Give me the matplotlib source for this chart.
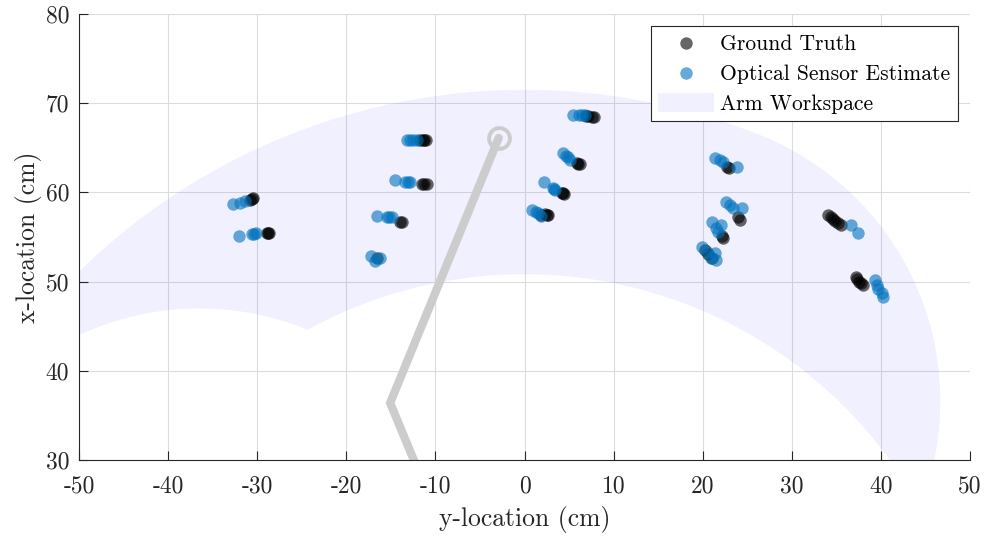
import numpy as np
import matplotlib.pyplot as plt

plt.rcParams['font.family'] = 'cmr10'
plt.rcParams['axes.unicode_minus'] = False
plt.rcParams['mathtext.fontset'] = 'cm'

# arm geometry (cm, degrees measured from the x-location axis)
link1 = 39.4
link2 = 32.1
shoulder_lim = (-67.8, 21.7)
elbow_lim = (0.0, 90.0)
pose = (-22.5, 44.8)

# ground truth positions: horizontal = y-location, vertical = x-location
gt_y = [-30.81, -30.6, -30.44, -28.93, -28.8, -28.64, -11.7, -11.4, -11.25, -11.05,
        -11.54, -11.25, -10.99, -13.97, -13.8, -16.59, 6.9, 7.16, 7.54, 7.80,
        5.93, 6.05, 6.23, 4.18, 4.3, 4.43, 1.9, 2.30, 2.5, 2.67,
        22.69, 22.98, 23.99, 24.18, 22.13, 22.31, 20.25, 20.63, 21.01,
        34.10, 34.4, 34.66, 34.9, 35.22, 35.52, 37.17, 37.35, 37.54, 37.8, 38.02]
gt_x = [59.15, 59.25, 59.34, 55.48, 55.48, 55.48, 65.91, 65.91, 65.91, 65.91,
        60.91, 60.91, 60.91, 56.72, 56.65, 52.61, 68.55, 68.60, 68.49, 68.42,
        63.26, 63.2, 63.15, 59.97, 59.88, 59.79, 57.5, 57.58, 57.5, 57.47,
        62.88, 62.70, 57.28, 56.91, 55.15, 54.92, 53.54, 53.06, 52.68,
        57.47, 57.2, 56.98, 56.75, 56.54, 56.35, 50.55, 50.25, 49.99, 49.8, 49.62]

# optical sensor estimates
est_y = [-32.68, -31.93, -31.37, -32.01, -30.62, -30.35, -30.13, -13.22, -12.8,
         -12.48, -12.10, -14.53, -13.41, -13.1, -12.85, -16.59, -15.47, -15.2,
         -14.90, -17.26, -16.22, -16.78, 5.48, 6.1, 6.42, 6.79, 4.29, 4.7, 4.92,
         5.11, 2.19, 3.17, 3.3, 3.42, 0.81, 1.3, 1.55, 1.82, 21.38, 21.94, 22.24,
         23.81, 22.61, 23.06, 23.36, 24.37, 21.01, 21.49, 21.75, 22.02, 19.89,
         20.44, 20.89, 21.38, 21.49, 36.64, 37.46, 39.34, 39.53, 39.71, 40.09, 40.27]
est_x = [58.70, 58.85, 59.04, 55.11, 55.30, 55.35, 55.41, 65.91, 65.91,
         65.91, 65.91, 61.39, 61.13, 61.13, 61.13, 57.39, 57.21, 57.21,
         57.21, 52.90, 52.61, 52.31, 68.68, 68.68, 68.68, 68.68, 64.38, 64.1, 63.93,
         63.63, 61.20, 60.46, 60.35, 60.27, 58.03, 57.8, 57.66, 57.35, 63.82, 63.63,
         63.37, 62.81, 58.96, 58.59, 58.22, 58.28, 56.65, 56.04, 55.53, 56.35,
         53.91, 53.28, 52.68, 53.17, 52.42, 56.35, 55.42, 50.18, 49.62, 49.14,
         48.76, 48.31]


def fk(a1, a2):
    a1 = np.radians(a1)
    a2 = np.radians(a2)
    h = link1 * np.sin(a1) + link2 * np.sin(a1 + a2)
    v = link1 * np.cos(a1) + link2 * np.cos(a1 + a2)
    return h, v


# boundary of the reachable region, walked around once
s = np.linspace(0, 1, 300)
lo, hi = shoulder_lim
e0, e1 = elbow_lim
parts = [fk(lo + (hi - lo) * s, e0),
         fk(hi, e0 + (e1 - e0) * s),
         fk(hi - (hi - lo) * s, e1),
         fk(lo, e1 - (e1 - e0) * s)]
ws_h = np.concatenate([p[0] * np.ones_like(s) for p in parts])
ws_v = np.concatenate([p[1] * np.ones_like(s) for p in parts])

fig = plt.figure(figsize=(9.89, 5.38), dpi=100)
ax = fig.add_axes([79 / 989, 1 - 460 / 538, 891 / 989, 446 / 538])

ax.fill(ws_h, ws_v, color=(0, 0, 1), alpha=0.06, lw=0, label='Arm Workspace', zorder=1)

# arm links: base -> elbow -> end effector
elbow = (link1 * np.sin(np.radians(pose[0])), link1 * np.cos(np.radians(pose[0])))
tip = fk(*pose)
ax.plot([0, elbow[0], tip[0]], [0, elbow[1], tip[1]], color='#cccccc', lw=6,
        solid_capstyle='round', solid_joinstyle='miter', zorder=2)
ax.plot(tip[0], tip[1], 'o', ms=15, mfc='none', mec='#cccccc', mew=2.8, zorder=2)

ax.scatter(gt_y, gt_x, s=80, color='black', alpha=0.6, lw=0, label='Ground Truth', zorder=3)
ax.scatter(est_y, est_x, s=80, color='#0072BD', alpha=0.6, lw=0,
           label='Optical Sensor Estimate', zorder=4)

ax.set_xlim(-50, 50)
ax.set_ylim(30, 80)
ax.set_xticks(np.arange(-50, 51, 10))
ax.set_yticks(np.arange(30, 81, 10))
ax.grid(True, color='#dcdcdc', lw=0.8)
ax.set_axisbelow(True)
for side in ['top', 'right']:
    ax.spines[side].set_visible(False)
for side in ['left', 'bottom']:
    ax.spines[side].set_color('#262626')
    ax.spines[side].set_linewidth(0.8)
ax.tick_params(direction='in', length=6.5, width=0.8, color='#262626',
               labelsize=17, labelcolor='#262626', pad=7)
ax.tick_params(axis='x', pad=11)

ax.set_xlabel('y-location (cm)', fontsize=18.5, color='#262626', labelpad=6)
ax.set_ylabel('x-location (cm)', fontsize=18.5, color='#262626', labelpad=3)

handles, labels = ax.get_legend_handles_labels()
order = [1, 2, 0]
leg = ax.legend([handles[i] for i in order], [labels[i] for i in order],
                loc='upper right', fontsize=15.5, fancybox=False, framealpha=1,
                edgecolor='#262626', borderpad=0.35, labelspacing=0.4,
                handlelength=2.6, handleheight=1.0, handletextpad=0.3,
                borderaxespad=0.55, scatterpoints=1)
leg.get_frame().set_linewidth(0.8)

fig.savefig('out.png', dpi=100)
